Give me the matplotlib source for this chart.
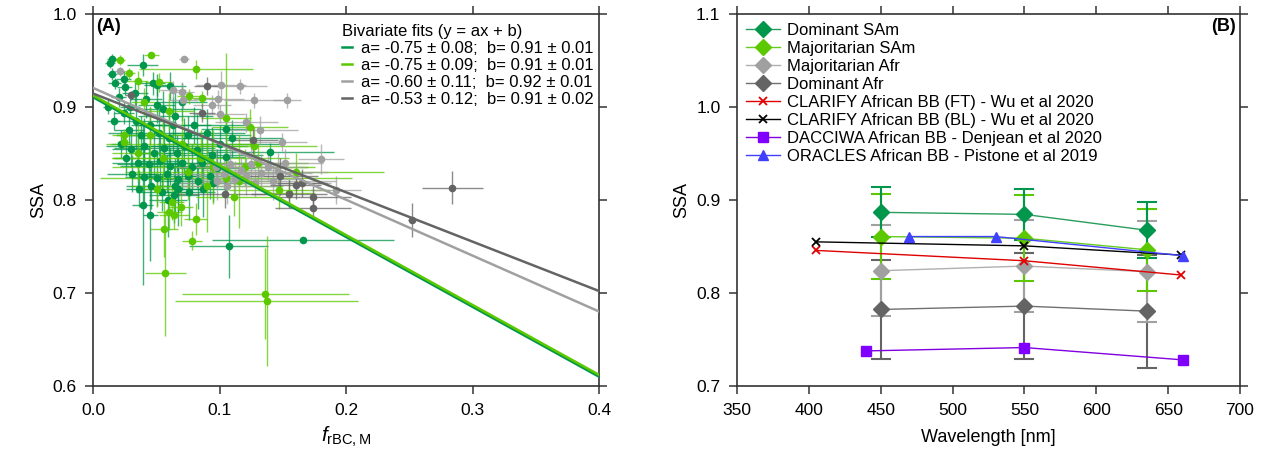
import matplotlib
matplotlib.use('Agg')
import matplotlib.pyplot as plt
from matplotlib.lines import Line2D
from matplotlib.ticker import FormatStrFormatter

plt.rcParams['font.family'] = ['Liberation Sans', 'DejaVu Sans']
plt.rcParams['mathtext.fontset'] = 'custom'
plt.rcParams['mathtext.rm'] = 'Liberation Sans'
plt.rcParams['mathtext.it'] = 'Liberation Sans:italic'
plt.rcParams['font.size'] = 12

# ---------------- Panel A data ----------------
dsam_x = [0.013,0.015,0.039,0.015,0.017,0.024,0.025,0.050,0.061,0.029,
          0.024,0.050,0.020,0.033,0.042,0.055,0.065,0.034,0.045,0.070,
          0.080,0.028,0.038,0.052,0.060,0.075,0.090,0.105,0.105,0.140,
          0.022,0.030,0.040,0.048,0.056,0.066,0.072,0.082,0.094,0.026,
          0.035,0.044,0.053,0.061,0.070,0.078,0.086,0.098,0.031,0.040,
          0.050,0.058,0.067,0.075,0.083,0.092,0.046,0.065,0.067,0.087,
          0.059,0.064,0.039,0.045,0.107,0.166,0.054,0.076,0.036,0.095,
          0.100,0.110,0.063,0.016,0.012,0.047]
dsam_y = [0.947,0.951,0.945,0.935,0.925,0.930,0.921,0.923,0.922,0.900,
          0.893,0.902,0.910,0.915,0.908,0.897,0.890,0.885,0.880,0.905,
          0.880,0.875,0.870,0.872,0.866,0.870,0.872,0.876,0.846,0.851,
          0.860,0.855,0.858,0.850,0.856,0.850,0.858,0.853,0.848,0.845,
          0.840,0.838,0.842,0.836,0.840,0.835,0.840,0.834,0.828,0.824,
          0.823,0.828,0.822,0.826,0.820,0.826,0.815,0.815,0.812,0.812,
          0.800,0.805,0.794,0.784,0.750,0.757,0.808,0.808,0.812,0.818,
          0.860,0.866,0.880,0.885,0.900,0.925]
dsam_xerr = [0.004,0.004,0.012,0.004,0.005,0.006,0.006,0.010,0.012,0.008,
             0.008,0.015,0.006,0.010,0.012,0.030,0.030,0.020,0.015,0.020,
             0.040,0.012,0.020,0.040,0.025,0.050,0.030,0.020,0.015,0.050,
             0.008,0.015,0.030,0.020,0.040,0.030,0.050,0.030,0.040,0.010,
             0.020,0.025,0.020,0.040,0.030,0.020,0.050,0.030,0.020,0.015,
             0.020,0.030,0.020,0.040,0.030,0.020,0.020,0.015,0.020,0.020,
             0.015,0.020,0.008,0.006,0.031,0.072,0.020,0.020,0.010,0.030,
             0.050,0.040,0.030,0.005,0.004,0.010]
dsam_yerr = [0.005,0.005,0.012,0.006,0.006,0.008,0.008,0.012,0.015,0.010,
             0.012,0.020,0.010,0.015,0.020,0.020,0.025,0.030,0.020,0.020,
             0.020,0.015,0.020,0.025,0.030,0.020,0.025,0.030,0.015,0.010,
             0.015,0.020,0.030,0.025,0.030,0.020,0.030,0.040,0.030,0.020,
             0.030,0.020,0.030,0.020,0.030,0.025,0.030,0.020,0.020,0.030,
             0.030,0.020,0.035,0.020,0.030,0.025,0.025,0.030,0.040,0.030,
             0.040,0.030,0.086,0.050,0.034,0.003,0.020,0.030,0.020,0.020,
             0.020,0.020,0.030,0.010,0.008,0.012]

msam_x = [0.021,0.046,0.028,0.035,0.052,0.081,0.076,0.086,0.105,0.124,
          0.024,0.024,0.111,0.105,0.127,0.147,0.155,0.062,0.069,0.060,
          0.064,0.050,0.081,0.056,0.078,0.057,0.136,0.137,0.040,0.060,
          0.045,0.070,0.085,0.095,0.055,0.075,0.035,0.090,0.120,0.115,
          0.130,0.160]
msam_y = [0.950,0.955,0.936,0.928,0.926,0.940,0.911,0.909,0.888,0.878,
          0.870,0.862,0.803,0.823,0.858,0.810,0.807,0.798,0.792,0.787,
          0.784,0.812,0.779,0.769,0.756,0.721,0.699,0.691,0.905,0.895,
          0.870,0.860,0.845,0.835,0.845,0.830,0.850,0.815,0.835,0.820,
          0.840,0.830]
msam_xerr = [0.004,0.006,0.005,0.008,0.010,0.045,0.010,0.012,0.020,0.030,
             0.005,0.005,0.030,0.100,0.050,0.040,0.020,0.010,0.010,0.010,
             0.012,0.015,0.009,0.011,0.008,0.016,0.066,0.072,0.010,0.020,
             0.030,0.060,0.070,0.080,0.040,0.050,0.020,0.060,0.050,0.030,
             0.040,0.070]
msam_yerr = [0.005,0.003,0.006,0.010,0.010,0.010,0.008,0.008,0.070,0.020,
             0.006,0.006,0.020,0.020,0.020,0.020,0.015,0.020,0.020,0.020,
             0.015,0.020,0.017,0.030,0.010,0.067,0.049,0.070,0.015,0.020,
             0.030,0.030,0.030,0.040,0.040,0.030,0.030,0.050,0.020,0.050,
             0.020,0.020]

mafr_x = [0.072,0.101,0.116,0.127,0.153,0.094,0.099,0.100,0.121,0.132,
          0.149,0.180,0.192,0.097,0.103,0.108,0.112,0.117,0.121,0.125,
          0.128,0.133,0.138,0.142,0.146,0.152,0.098,0.106,0.021,0.063,
          0.070,0.071]
mafr_y = [0.951,0.923,0.922,0.907,0.907,0.902,0.908,0.892,0.883,0.875,
          0.862,0.844,0.810,0.835,0.828,0.838,0.822,0.832,0.825,0.838,
          0.818,0.829,0.835,0.820,0.830,0.840,0.820,0.815,0.938,0.918,
          0.916,0.907]
mafr_xerr = [0.004,0.020,0.021,0.024,0.011,0.015,0.020,0.020,0.025,0.030,
             0.020,0.018,0.020,0.030,0.040,0.030,0.050,0.030,0.040,0.030,
             0.060,0.040,0.030,0.050,0.040,0.030,0.020,0.040,0.005,0.010,
             0.010,0.012]
mafr_yerr = [0.003,0.015,0.008,0.008,0.008,0.010,0.010,0.010,0.010,0.015,
             0.010,0.016,0.015,0.020,0.015,0.020,0.020,0.015,0.020,0.020,
             0.015,0.020,0.015,0.020,0.020,0.015,0.020,0.020,0.005,0.010,
             0.010,0.010]

dafr_x = [0.030,0.090,0.086,0.126,0.148,0.160,0.165,0.155,0.104,0.174,0.174,0.252,0.284]
dafr_y = [0.912,0.922,0.893,0.864,0.825,0.816,0.818,0.806,0.806,0.803,0.791,0.778,0.813]
dafr_xerr = [0.005,0.010,0.010,0.020,0.030,0.020,0.020,0.030,0.040,0.030,0.030,0.003,0.024]
dafr_yerr = [0.005,0.010,0.010,0.015,0.020,0.015,0.015,0.015,0.015,0.015,0.010,0.018,0.018]

fit_a = [-0.75, -0.75, -0.60, -0.53]
fit_b = [0.910, 0.912, 0.920, 0.914]
fit_labels = ['a= -0.75 \u00b1 0.08;  b= 0.91 \u00b1 0.01',
              'a= -0.75 \u00b1 0.09;  b= 0.91 \u00b1 0.01',
              'a= -0.60 \u00b1 0.11;  b= 0.92 \u00b1 0.01',
              'a= -0.53 \u00b1 0.12;  b= 0.91 \u00b1 0.02']
fit_x = [0.0, 0.4]

# ---------------- Panel B data ----------------
wl_campaign = [450, 550, 635]
dom_sam_ssa = [0.8865, 0.8843, 0.8673]
dom_sam_err = [0.027, 0.027, 0.030]
maj_sam_ssa = [0.8605, 0.8587, 0.8463]
maj_sam_err = [0.046, 0.046, 0.044]
maj_afr_ssa = [0.8238, 0.8288, 0.8228]
maj_afr_err = [0.049, 0.049, 0.054]
dom_afr_ssa = [0.7822, 0.7858, 0.7804]
dom_afr_err = [0.0534, 0.057, 0.0608]

wl_clarify = [405, 550, 659]
clarify_ft = [0.8456, 0.8345, 0.8192]
clarify_bl = [0.8548, 0.8505, 0.8406]
wl_dacciwa = [440, 550, 660]
dacciwa = [0.7377, 0.7413, 0.7281]
wl_oracles = [470, 530, 660]
oracles = [0.8605, 0.8605, 0.8400]

C_DSAM = '#00964B'
C_MSAM = '#5CC800'
C_MAFR = '#A0A0A0'
C_DAFR = '#646464'

fig = plt.figure(figsize=(12.71, 4.63), dpi=100)
axA = fig.add_axes([0.0734, 0.1663, 0.3979, 0.8045])
axB = fig.add_axes([0.5799, 0.1663, 0.3957, 0.8045])

SPINE = '#333333'

def style(ax):
    for s in ax.spines.values():
        s.set_color(SPINE)
        s.set_linewidth(1.2)
    ax.tick_params(direction='out', length=6, width=1.1, color=SPINE,
                   top=True, right=True, labelsize=12.5, pad=6)

# Panel A
groups = [(dsam_x, dsam_y, dsam_xerr, dsam_yerr, C_DSAM),
          (msam_x, msam_y, msam_xerr, msam_yerr, C_MSAM),
          (mafr_x, mafr_y, mafr_xerr, mafr_yerr, C_MAFR),
          (dafr_x, dafr_y, dafr_xerr, dafr_yerr, C_DAFR)]
for gx, gy, gxe, gye, c in groups:
    axA.errorbar(gx, gy, xerr=gxe, yerr=gye, fmt='none', ecolor=c,
                 elinewidth=1.0, alpha=0.75, capsize=0, zorder=2)
    axA.plot(gx, gy, 'o', color=c, ms=5.5, mew=0, zorder=3)

fit_colors = [C_DSAM, C_MSAM, C_MAFR, C_DAFR]
handles = []
for a, b, c, lab in zip(fit_a, fit_b, fit_colors, fit_labels):
    ys = [a * xv + b for xv in fit_x]
    axA.plot(fit_x, ys, '-', color=c, lw=1.8, zorder=4)
    handles.append(Line2D([], [], color=c, lw=1.8, label=lab))

legA = axA.legend(handles=handles, loc='upper right', bbox_to_anchor=(1.0, 0.985),
                  frameon=False, fontsize=12, handlelength=0.6, handletextpad=0.55,
                  labelspacing=0.12, borderpad=0.1, borderaxespad=0.2,
                  title='Bivariate fits (y = ax + b)', title_fontsize=12)
legA._legend_box.align = 'left'

axA.set_xlim(0, 0.4)
axA.set_ylim(0.6, 1.0)
axA.set_xticks([0.0, 0.1, 0.2, 0.3, 0.4])
axA.set_yticks([0.6, 0.7, 0.8, 0.9, 1.0])
axA.xaxis.set_major_formatter(FormatStrFormatter('%.1f'))
axA.yaxis.set_major_formatter(FormatStrFormatter('%.1f'))
axA.set_ylabel('SSA', fontsize=13, labelpad=4)
axA.set_xlabel(r'$\mathit{f}_{\mathrm{rBC,M}}$', fontsize=15, labelpad=5)
axA.text(0.006, 0.988, '(A)', transform=axA.transAxes, fontsize=13,
         fontweight='bold', ha='left', va='top')
style(axA)

# Panel B
series = [(dom_afr_ssa, dom_afr_err, C_DAFR, '#707070', 'Dominant Afr'),
          (maj_afr_ssa, maj_afr_err, C_MAFR, '#B0B0B0', 'Majoritarian Afr'),
          (maj_sam_ssa, maj_sam_err, C_MSAM, '#66CC22', 'Majoritarian SAm'),
          (dom_sam_ssa, dom_sam_err, C_DSAM, '#2A9D5C', 'Dominant SAm')]
hB = {}
for ys, es, c, lc, lab in series:
    axB.errorbar(wl_campaign, ys, yerr=es, fmt='none', ecolor=c, elinewidth=1.5,
                 capsize=7, capthick=1.5, zorder=2)
    h, = axB.plot(wl_campaign, ys, '-', color=lc, lw=1.0, marker='D', ms=8,
                  mfc=c, mec=c, zorder=3, label=lab)
    hB[lab] = h

h1, = axB.plot(wl_clarify, clarify_ft, '-', color='#E00000', lw=1.0, marker='x',
               ms=6, mew=1.3, zorder=4, label='CLARIFY African BB (FT) - Wu et al 2020')
h2, = axB.plot(wl_clarify, clarify_bl, '-', color='black', lw=1.0, marker='x',
               ms=6, mew=1.3, zorder=4, label='CLARIFY African BB (BL) - Wu et al 2020')
h3, = axB.plot(wl_dacciwa, dacciwa, '-', color='#8000E0', lw=1.0, marker='s',
               ms=6.5, mfc='#8000FF', mec='#8000FF', zorder=4,
               label='DACCIWA African BB - Denjean et al 2020')
h4, = axB.plot(wl_oracles, oracles, '-', color='#4040FF', lw=1.0, marker='^',
               ms=7, mfc='#4040FF', mec='#4040FF', zorder=4,
               label='ORACLES African BB - Pistone et al 2019')

legB = axB.legend(handles=[hB['Dominant SAm'], hB['Majoritarian SAm'],
                           hB['Majoritarian Afr'], hB['Dominant Afr'], h1, h2, h3, h4],
                  loc='upper left', frameon=False, fontsize=12, handlelength=2.0,
                  handletextpad=0.45, labelspacing=0.18, borderpad=0.1,
                  borderaxespad=0.45)

axB.set_xlim(350, 700)
axB.set_ylim(0.7, 1.1)
axB.set_xticks([350, 400, 450, 500, 550, 600, 650, 700])
axB.set_yticks([0.7, 0.8, 0.9, 1.0, 1.1])
axB.yaxis.set_major_formatter(FormatStrFormatter('%.1f'))
axB.set_ylabel('SSA', fontsize=13, labelpad=4)
axB.set_xlabel('Wavelength [nm]', fontsize=13, labelpad=8)
axB.text(0.992, 0.988, '(B)', transform=axB.transAxes, fontsize=13,
         fontweight='bold', ha='right', va='top')
style(axB)

fig.savefig('out.png', dpi=100)
